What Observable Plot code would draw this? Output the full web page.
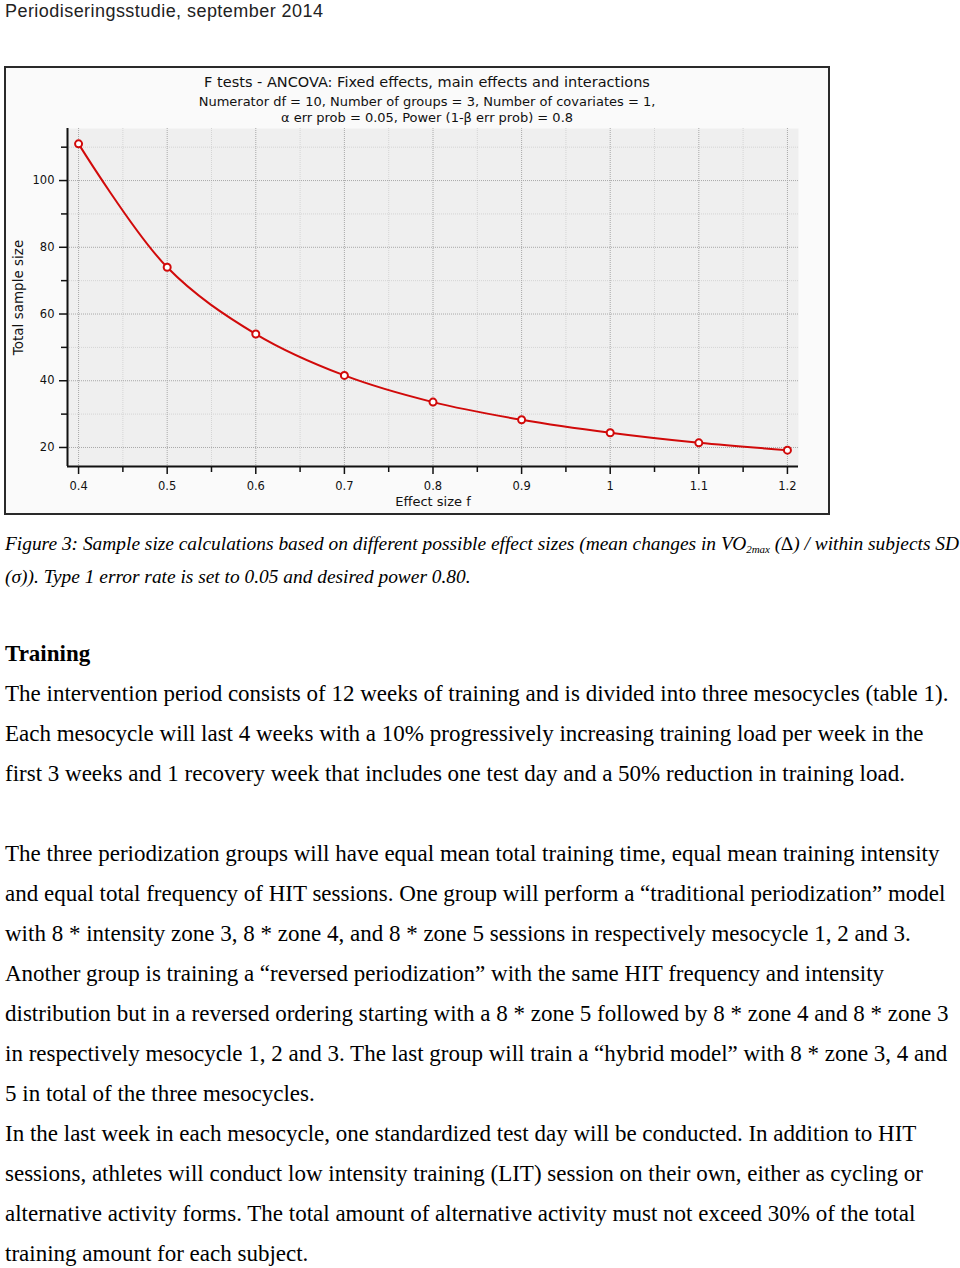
<!DOCTYPE html>
<html>
<head>
<meta charset="utf-8">
<script src="https://cdn.jsdelivr.net/npm/d3@7"></script>
<script src="https://cdn.jsdelivr.net/npm/@observablehq/plot@0.6"></script>
<style>
  html, body { margin: 0; padding: 0; background: #fff; }
  body { width: 960px; height: 1268px; position: relative; overflow: hidden; }
  .hdr { position: absolute; left: 5px; top: 0px; font-family: "Liberation Sans", Arial, sans-serif; font-size: 18px; letter-spacing: 0.45px; line-height: 22px; color: #222; white-space: nowrap; }
  #box { position: absolute; left: 4px; top: 66px; width: 822px; height: 445px; border: 2px solid #2a2a2a; background: #fafafa; }
  #box svg { position: absolute; left: 0; top: 0; }
  .ttl { position: absolute; left: 0; width: 842px; text-align: center; font-family: "DejaVu Sans", sans-serif; color: #111; white-space: nowrap; }
  .caption { position: absolute; left: 5px; top: 527px; font-family: "Liberation Serif", "Times New Roman", serif; font-style: italic; font-size: 19.4px; line-height: 33px; color: #000; white-space: nowrap; }
  .caption sub { font-size: 11px; vertical-align: -3px; line-height: 0; }
  .body { position: absolute; left: 5px; top: 634px; font-family: "Liberation Serif", "Times New Roman", serif; font-size: 23px; line-height: 40px; color: #000; white-space: nowrap; }
</style>
</head>
<body>
<div class="hdr">Periodiseringsstudie, september 2014</div>
<div id="box">
  <div class="ttl" style="top:5px;font-size:14.5px;line-height:18px;">F tests - ANCOVA: Fixed effects, main effects and interactions</div>
  <div class="ttl" style="top:26px;font-size:13px;line-height:16px;">Numerator df = 10, Number of groups = 3, Number of covariates = 1,</div>
  <div class="ttl" style="top:42px;font-size:13px;line-height:16px;">α err prob = 0.05, Power (1-β err prob) = 0.8</div>
</div>
<div class="caption">Figure 3: Sample size calculations based on different possible effect sizes (mean changes in VO<sub>2max</sub> (∆) / within subjects SD<br>(σ)). Type 1 error rate is set to 0.05 and desired power 0.80.</div>
<div class="body"><b>Training</b><br>
The intervention period consists of 12 weeks of training and is divided into three mesocycles (table 1).<br>
Each mesocycle will last 4 weeks with a 10% progressively increasing training load per week in the<br>
first 3 weeks and 1 recovery week that includes one test day and a 50% reduction in training load.<br>
&nbsp;<br>
The three periodization groups will have equal mean total training time, equal mean training intensity<br>
and equal total frequency of HIT sessions. One group will perform a “traditional periodization” model<br>
with 8 * intensity zone 3, 8 * zone 4, and 8 * zone 5 sessions in respectively mesocycle 1, 2 and 3.<br>
Another group is training a “reversed periodization” with the same HIT frequency and intensity<br>
distribution but in a reversed ordering starting with a 8 * zone 5 followed by 8 * zone 4 and 8 * zone 3<br>
in respectively mesocycle 1, 2 and 3. The last group will train a “hybrid model” with 8 * zone 3, 4 and<br>
5 in total of the three mesocycles.<br>
In the last week in each mesocycle, one standardized test day will be conducted. In addition to HIT<br>
sessions, athletes will conduct low intensity training (LIT) session on their own, either as cycling or<br>
alternative activity forms. The total amount of alternative activity must not exceed 30% of the total<br>
training amount for each subject.</div>
<script>
// ---- data ----
const effectSizes = [0.4, 0.5, 0.6, 0.7, 0.8, 0.9, 1.0, 1.1, 1.2];
const totalSampleSize = [111, 74, 54, 41.6, 33.6, 28.3, 24.4, 21.4, 19.2];
const xTicks = [0.4, 0.5, 0.6, 0.7, 0.8, 0.9, 1, 1.1, 1.2];
const xMinorTicks = [0.45, 0.55, 0.65, 0.75, 0.85, 0.95, 1.05, 1.15];
const yTicks = [20, 40, 60, 80, 100];
const yMinorTicks = [30, 50, 70, 90, 110];
const xLabel = "Effect size f";
const yLabel = "Total sample size";

const xDomain = [0.3875, 1.2125];
const yDomain = [14.3, 115.6];

const points = effectSizes.map((f, i) => ({f, n: totalSampleSize[i]}));
const red = "#d10a0a";

const chart = Plot.plot({
  width: 822,
  height: 445,
  marginLeft: 61,
  marginRight: 30,
  marginTop: 60,
  marginBottom: 47,
  style: {background: "transparent", fontFamily: "'DejaVu Sans', sans-serif", fontSize: "11.5px", color: "#111"},
  x: {domain: xDomain},
  y: {domain: yDomain},
  marks: [
    Plot.frame({fill: "#efefef", stroke: null}),
    Plot.gridX(xMinorTicks, {stroke: "#d4d4d4", strokeOpacity: 1, strokeDasharray: "1,1"}),
    Plot.gridY(yMinorTicks, {stroke: "#d4d4d4", strokeOpacity: 1, strokeDasharray: "1,1"}),
    Plot.gridX(xTicks, {stroke: "#a8a8a8", strokeOpacity: 1, strokeDasharray: "1,1"}),
    Plot.gridY(yTicks, {stroke: "#a8a8a8", strokeOpacity: 1, strokeDasharray: "1,1"}),
    Plot.axisX(xMinorTicks, {tickSize: 6, tickFormat: () => "", label: null, stroke: "#111", strokeWidth: 1.5}),
    Plot.axisY(yMinorTicks, {tickSize: 6, tickFormat: () => "", label: null, stroke: "#111", strokeWidth: 1.5}),
    Plot.axisX(xTicks, {tickSize: 8, tickPadding: 7, tickFormat: d => String(d), label: null, stroke: "#111", strokeWidth: 1.5}),
    Plot.axisY(yTicks, {tickSize: 8, tickPadding: 5, tickFormat: d => String(d), label: null, stroke: "#111", strokeWidth: 1.5}),
    Plot.ruleY([yDomain[0]], {stroke: "#111", strokeWidth: 2}),
    Plot.ruleX([xDomain[0]], {stroke: "#111", strokeWidth: 2}),
    Plot.text([xLabel], {frameAnchor: "bottom", dy: 39, fontSize: 13, fill: "#111"}),
    Plot.text([yLabel], {frameAnchor: "left", textAnchor: "middle", dx: -49, rotate: -90, fontSize: 13.5, fill: "#111"}),
    Plot.line(points, {x: "f", y: "n", stroke: red, strokeWidth: 2, curve: "catmull-rom"}),
    Plot.dot(points, {x: "f", y: "n", r: 3.5, stroke: red, strokeWidth: 2, fill: "#fff"})
  ]
});
document.getElementById("box").appendChild(chart);
</script>
</body>
</html>
